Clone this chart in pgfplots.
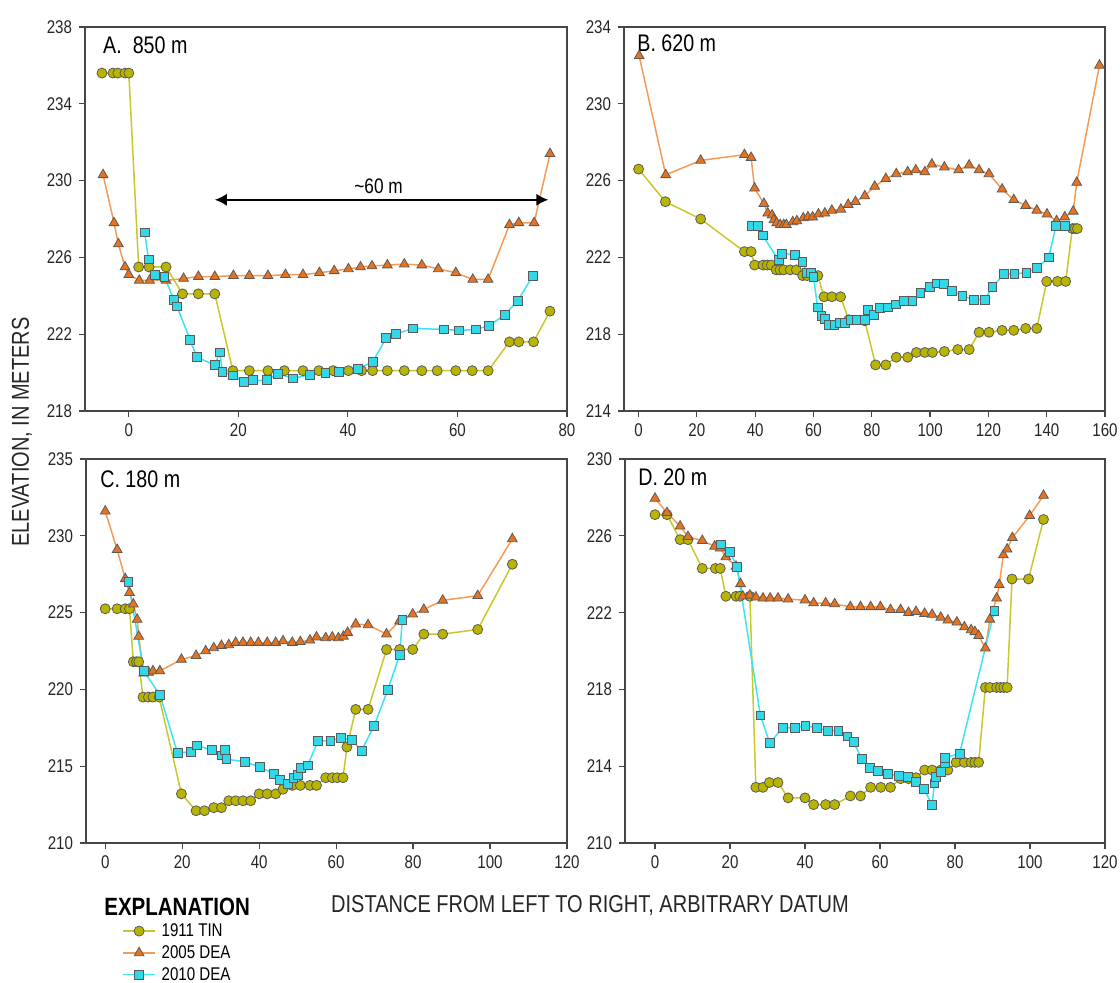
\documentclass[border=0pt]{standalone}
\usepackage{fontspec}
\setmainfont{Liberation Sans}[FakeStretch=0.82]
\usepackage{pgfplots}
\pgfplotsset{compat=1.18}
\usetikzlibrary{arrows.meta}
\definecolor{tinfill}{RGB}{185,180,0}
\definecolor{tinline}{RGB}{200,200,45}
\definecolor{dfivefill}{RGB}{232,115,30}
\definecolor{dfiveline}{RGB}{245,155,85}
\definecolor{dtenfill}{RGB}{50,215,232}
\definecolor{dtenline}{RGB}{60,228,242}
\definecolor{edge}{RGB}{90,90,90}
\definecolor{axisgray}{RGB}{70,70,70}
\tikzset{ptitle/.style={anchor=west, inner sep=0pt, font=\fontsize{12}{14}\selectfont}}
\pgfplotsset{
  panel/.style={scale only axis, height=192pt, anchor=south west,
    axis line style={draw=axisgray, line width=0.8pt},
    tick align=outside, xtick pos=bottom, ytick pos=left,
    major tick length=3pt, tick style={draw=axisgray, line width=0.6pt},
    ticklabel style={font=\fontsize{9.2}{10}\selectfont, text=black!85},
    /pgf/number format/assume math mode=true,
    /pgf/number format/1000 sep={},
  },
  tin/.style={color=tinline, line width=0.75pt, mark=*, mark size=2.5pt,
    mark options={fill=tinfill, draw=edge, line width=0.4pt}},
  dfive/.style={color=dfiveline, line width=0.75pt, mark=triangle*, mark size=2.8pt,
    mark options={fill=dfivefill, draw=edge, line width=0.4pt}},
  dten/.style={color=dtenline, line width=0.75pt, mark=square*, mark size=2.2pt,
    mark options={fill=dtenfill, draw=edge, line width=0.4pt}},
}
\begin{document}
\begin{tikzpicture}
\path[use as bounding box] (0,0) rectangle (560pt,491pt);
% ---------------- A
\begin{axis}[panel, at={(42.5pt,285.5pt)}, width=241pt,
  xmin=-8, xmax=80, ymin=218, ymax=238,
  xtick={0,20,40,60,80}, ytick={218,222,226,230,234,238}]
\addplot[tin] coordinates {(-4.9,235.6) (-2.9,235.6) (-2.0,235.6) (-0.7,235.6) (0,235.6) (1.8,225.5) (3.7,225.5) (6.8,225.5) (9.8,224.1) (12.7,224.1) (15.7,224.1) (19.0,220.1) (22.0,220.1) (25.4,220.1) (28.4,220.1) (31.8,220.1) (34.7,220.1) (37.3,220.1) (40.1,220.1) (42.5,220.1) (44.5,220.1) (47.2,220.1) (50.3,220.1) (53.5,220.1) (56.3,220.1) (59.7,220.1) (62.7,220.1) (65.6,220.1) (69.5,221.6) (71.2,221.6) (73.9,221.6) (76.9,223.2)};
\addplot[dfive] coordinates {(-4.7,230.3) (-2.7,227.8) (-1.9,226.7) (-0.7,225.5) (0,225.1) (1.9,224.8) (3.8,224.8) (6.8,224.8) (10.0,224.9) (12.7,225.0) (15.7,225.0) (19.1,225.05) (22.0,225.05) (25.4,225.05) (28.6,225.1) (31.8,225.1) (34.8,225.2) (37.5,225.3) (40.1,225.4) (42.3,225.5) (44.4,225.55) (47.2,225.6) (50.3,225.65) (53.5,225.6) (56.5,225.4) (59.7,225.2) (62.8,224.85) (65.6,224.85) (69.5,227.7) (71.2,227.8) (74.0,227.8) (76.9,231.4)};
\addplot[dten] coordinates {(2.9,227.3) (3.6,225.9) (4.7,225.1) (6.5,225.0) (8.2,223.8) (8.8,223.45) (11.2,221.7) (12.4,220.8) (15.7,220.4) (16.6,221.05) (17.1,220.05) (19.0,219.85) (21.0,219.5) (22.7,219.6) (25.2,219.6) (27.2,219.95) (30.0,219.7) (33.1,219.9) (35.9,220.0) (38.3,220.05) (41.8,220.2) (44.5,220.55) (47.0,221.8) (48.7,222.0) (51.8,222.3) (57.5,222.25) (60.3,222.2) (63.4,222.25) (65.8,222.45) (68.6,223.0) (71.0,223.75) (73.8,225.05)};
\draw[{Latex[length=6pt,width=6pt]}-{Latex[length=6pt,width=6pt]}, line width=0.8pt, black] (axis cs:15.7,229) -- (axis cs:76.6,229);
\node[font=\fontsize{10.5}{12}\selectfont] at (axis cs:45.6,229.7) {\textasciitilde 60 m};
\node[ptitle] at (rel axis cs:0.037,0.953) {A.\ \ 850 m};
\end{axis}
% ---------------- B
\begin{axis}[panel, at={(312pt,285.5pt)}, width=240.5pt,
  xmin=-5, xmax=160, ymin=214, ymax=234,
  xtick={0,20,...,160}, ytick={214,218,222,226,230,234}]
\addplot[tin] coordinates {(0,226.6) (9.2,224.9) (21.3,224.0) (36.3,222.3) (38.6,222.3) (39.8,221.6) (42.7,221.6) (44.1,221.6) (45.5,221.6) (47.2,221.35) (48.5,221.35) (49.8,221.35) (52.0,221.35) (54.1,221.35) (56.3,221.05) (57.8,221.05) (61.5,221.05) (63.6,219.95) (66.3,219.95) (69.3,219.95) (72.1,218.75) (77.6,218.7) (81.3,216.4) (84.8,216.4) (88.4,216.8) (92.3,216.8) (95.3,217.05) (98.2,217.05) (100.8,217.05) (104.9,217.1) (109.5,217.2) (113.4,217.2) (116.8,218.1) (120.2,218.1) (124.7,218.2) (128.7,218.2) (132.8,218.3) (136.6,218.3) (140.0,220.75) (143.7,220.75) (146.5,220.75) (148.8,223.5) (149.7,223.5) (150.5,223.5)};
\addplot[dfive] coordinates {(0.2,232.5) (9.3,226.3) (21.3,227.05) (36.3,227.35) (38.6,227.2) (39.8,225.6) (43.0,224.8) (44.3,224.3) (45.8,224.2) (46.4,223.95) (47.4,223.8) (48.6,223.7) (49.8,223.7) (50.7,223.7) (52.9,223.85) (54.3,223.9) (56.5,224.05) (58.1,224.1) (59.7,224.1) (61.7,224.25) (63.9,224.3) (66.3,224.45) (69.4,224.5) (71.9,224.75) (74.4,224.9) (77.6,225.2) (81.0,225.7) (84.8,226.1) (88.4,226.35) (92.3,226.45) (95.1,226.55) (98.2,226.45) (100.6,226.85) (104.9,226.7) (109.8,226.55) (113.4,226.8) (116.8,226.55) (120.2,226.35) (124.7,225.55) (128.7,225.0) (132.8,224.7) (136.6,224.45) (140.1,224.25) (143.4,223.9) (146.2,224.1) (149.1,224.4) (150.3,225.9) (158.1,232.0)};
\addplot[dten] coordinates {(39.0,223.65) (40.9,223.65) (42.6,223.15) (48.0,221.85) (49.2,222.2) (53.7,222.15) (56.2,221.75) (57.8,221.2) (59.0,221.2) (60.0,221.0) (61.4,219.4) (62.7,218.95) (63.9,218.8) (65.1,218.5) (67.2,218.5) (69.0,218.6) (70.9,218.6) (72.7,218.75) (74.9,218.75) (77.6,218.75) (78.8,219.25) (80.8,219.0) (82.9,219.35) (85.4,219.4) (88.4,219.55) (91.0,219.75) (93.9,219.75) (96.7,220.15) (100.0,220.45) (102.4,220.65) (104.6,220.6) (107.6,220.25) (111.1,220.0) (115.0,219.8) (118.7,219.8) (121.4,220.45) (125.4,221.15) (128.9,221.15) (133.0,221.2) (136.7,221.45) (140.7,222.0) (143.2,223.65) (146.2,223.65)};
\node[ptitle] at (rel axis cs:0.027,0.958) {B. 620 m};
\end{axis}
% ---------------- C
\begin{axis}[panel, at={(43pt,69.5pt)}, width=240.5pt,
  xmin=-5, xmax=120, ymin=210, ymax=235,
  xtick={0,20,...,120}, ytick={210,215,...,235},
  legend style={at={(0.0748,-0.200)}, anchor=north west, draw=none, fill=none,
    inner sep=0pt, font=\fontsize{9.2}{10}\selectfont,
    nodes={inner sep=0.9pt, text height=7.3pt, text depth=1.8pt},
    column sep=2pt, row sep=0pt},
  legend cell align=left,
  legend image code/.code={\draw[mark repeat=2,mark phase=2,#1] plot coordinates {(0pt,0pt) (8pt,0pt) (16pt,0pt)};}]
\addplot[tin] coordinates {(0,225.25) (3.1,225.25) (5.2,225.25) (6.3,225.25) (7.3,221.8) (8.1,221.8) (8.7,221.8) (9.8,219.5) (11.2,219.5) (12.4,219.5) (14.0,219.5) (19.8,213.2) (23.6,212.1) (25.8,212.1) (28.2,212.3) (30.2,212.3) (32.1,212.75) (33.9,212.75) (35.8,212.75) (37.8,212.75) (40.0,213.2) (42.1,213.2) (44.3,213.2) (46.2,213.5) (48.6,213.75) (50.7,213.75) (53.2,213.75) (54.9,213.75) (57.3,214.25) (59.0,214.25) (60.3,214.25) (61.8,214.25) (62.8,216.25) (65.1,218.7) (68.3,218.7) (73.1,222.6) (76.5,222.6) (79.9,222.6) (82.8,223.6) (87.7,223.6) (96.8,223.9) (105.8,228.15)};
\addlegendentry{1911 TIN}
\addplot[dfive] coordinates {(0,231.6) (3.1,229.1) (5.2,227.2) (6.3,226.3) (7.3,225.55) (8.3,224.55) (8.7,223.45) (10.0,221.05) (11.3,221.1) (12.4,221.2) (14.2,221.2) (19.8,221.95) (23.6,222.2) (26.1,222.5) (28.2,222.7) (30.2,222.85) (32.1,222.9) (33.9,223.05) (35.8,223.05) (37.8,223.05) (39.8,223.05) (42.1,223.05) (44.3,223.05) (46.2,223.15) (48.6,223.05) (50.7,223.1) (53.2,223.2) (54.9,223.4) (57.3,223.35) (59.0,223.4) (60.6,223.35) (61.9,223.45) (63.0,223.7) (65.1,224.25) (68.3,224.2) (73.1,223.6) (76.5,224.45) (79.9,224.9) (82.8,225.2) (87.7,225.8) (96.8,226.1) (105.8,229.8)};
\addlegendentry{2005 DEA}
\addplot[dten] coordinates {(6.0,227.0) (10.0,221.2) (14.2,219.65) (18.8,215.85) (22.2,215.95) (23.8,216.35) (27.7,216.05) (30.4,215.7) (31.1,216.05) (31.5,215.45) (36.3,215.3) (40.2,214.95) (43.8,214.5) (45.4,214.1) (47.4,213.85) (48.9,214.25) (50.1,214.45) (50.8,214.9) (52.6,215.05) (55.3,216.65) (58.5,216.65) (61.3,216.85) (64.2,216.7) (66.6,216.0) (69.9,217.65) (73.4,219.95) (76.5,222.25) (77.2,224.5)};
\addlegendentry{2010 DEA}
\node[ptitle] at (rel axis cs:0.029,0.948) {C. 180 m};
\end{axis}
% ---------------- D
\begin{axis}[panel, at={(312.5pt,69.5pt)}, width=240pt,
  xmin=-8, xmax=120, ymin=210, ymax=230,
  xtick={0,20,...,120}, ytick={210,214,...,230}]
\addplot[tin] coordinates {(0,227.1) (3.2,227.1) (6.7,225.8) (8.8,225.8) (12.6,224.3) (16.1,224.3) (17.4,224.3) (18.9,222.85) (21.6,222.85) (22.6,222.85) (25.3,222.85) (26.9,212.9) (28.8,212.9) (30.5,213.15) (32.8,213.15) (35.5,212.35) (40.0,212.35) (42.3,212.0) (45.5,212.0) (47.9,212.0) (52.1,212.45) (54.8,212.45) (57.5,212.9) (60.2,212.9) (62.8,212.9) (65.5,213.35) (67.6,213.35) (69.6,213.4) (71.9,213.8) (73.9,213.8) (76.2,213.8) (78.1,213.8) (80.3,214.2) (82.5,214.2) (84.3,214.2) (85.3,214.2) (86.3,214.2) (88.1,218.1) (89.3,218.1) (91.1,218.1) (92.1,218.1) (93.0,218.1) (93.9,218.1) (95.2,223.75) (99.6,223.75) (103.6,226.85)};
\addplot[dfive] coordinates {(0,227.95) (3.2,227.2) (6.7,226.5) (8.8,225.95) (12.6,225.75) (15.9,225.45) (17.4,225.35) (18.9,224.9) (21.6,224.4) (22.8,223.5) (23.4,222.85) (25.3,222.9) (26.9,222.8) (28.8,222.75) (30.7,222.75) (32.8,222.75) (35.5,222.7) (40.0,222.65) (42.3,222.5) (45.5,222.5) (47.9,222.45) (52.1,222.3) (54.8,222.3) (57.5,222.3) (60.1,222.3) (62.8,222.15) (65.5,222.15) (67.6,222.0) (69.6,222.05) (71.9,221.95) (73.9,221.9) (76.2,221.75) (78.1,221.6) (80.5,221.5) (82.5,221.25) (84.3,221.1) (85.3,221.0) (86.3,220.8) (88.1,220.15) (89.3,221.65) (91.1,222.75) (91.8,223.45) (92.9,225.0) (93.9,225.3) (95.3,225.9) (99.9,227.05) (103.6,228.1)};
\addplot[dten] coordinates {(17.5,225.55) (19.9,225.15) (21.9,224.4) (28.1,216.65) (30.6,215.2) (34.0,216.0) (37.2,216.0) (40.1,216.1) (43.1,216.0) (46.0,215.85) (48.9,215.85) (51.3,215.55) (53.0,215.25) (55.1,214.4) (57.3,213.9) (59.4,213.75) (62.2,213.6) (65.0,213.5) (67.4,213.45) (69.6,213.2) (71.7,212.8) (73.9,212.0) (74.5,213.1) (75.0,213.45) (76.2,213.7) (77.2,214.15) (77.2,214.45) (81.2,214.65) (90.5,222.1)};
\node[ptitle] at (rel axis cs:0.027,0.953) {D. 20 m};
\end{axis}
% ---------------- labels
\node[rotate=90, font=\fontsize{12.2}{14}\selectfont, text=black!85] at (11pt,275pt) {ELEVATION, IN METERS};
\node[font=\fontsize{12.2}{14}\selectfont, text=black!85] at (295pt,38pt) {DISTANCE FROM LEFT TO RIGHT, ARBITRARY DATUM};
\node[anchor=west, inner sep=0pt, font=\fontsize{12.5}{14}\selectfont\bfseries] at (52pt,37.5pt) {EXPLANATION};
\end{tikzpicture}
\end{document}
